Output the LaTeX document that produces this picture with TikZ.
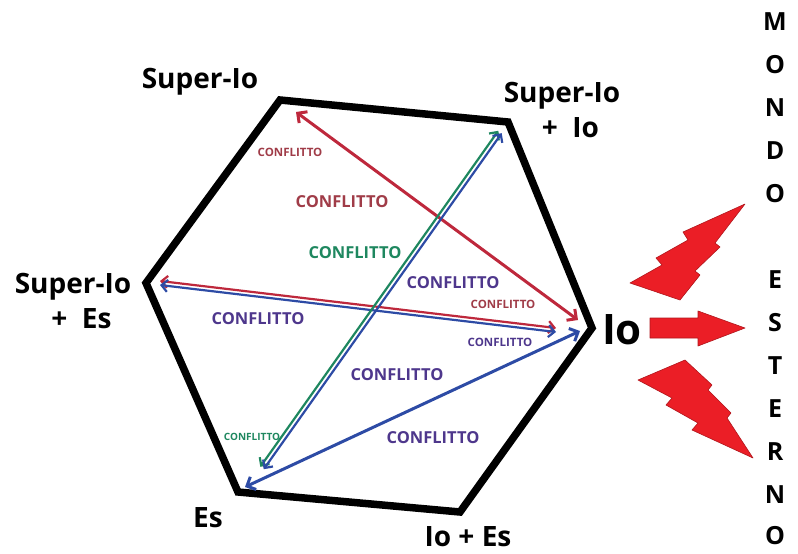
\documentclass[tikz,border=0pt]{standalone}
\usepackage{fontspec}
\setmainfont{Open Sans}
\usetikzlibrary{arrows.meta}

\definecolor{confred}{RGB}{190,40,60}
\definecolor{labred}{RGB}{160,60,72}
\definecolor{confgreen}{RGB}{30,135,95}
\definecolor{confblue}{RGB}{45,75,165}
\definecolor{labpurple}{RGB}{78,55,140}
\definecolor{boltred}{RGB}{235,30,38}

\begin{document}
\begin{tikzpicture}[x=1pt, y=-1pt,
    vlabel/.style={font=\fontsize{28}{35}\selectfont\bfseries, align=center, inner sep=0pt},
    conf/.style={font=\fontsize{16.5}{18}\selectfont\bfseries, inner sep=0pt},
    confs/.style={font=\fontsize{11.5}{13}\selectfont\bfseries, inner sep=0pt},
    arr/.style={{Straight Barb[length=7pt,width=14pt]}-{Straight Barb[length=7pt,width=14pt]}, line width=3pt},
    twin/.style={{Straight Barb[length=6pt,width=12pt]}-{Straight Barb[length=6pt,width=12pt]}, line width=2.2pt},
    bolt/.style={fill=boltred, draw=boltred!75!black, line width=0.6pt, line join=round},
    letter/.style={font=\fontsize{25}{27}\selectfont\bfseries, inner sep=0pt}
]
\useasboundingbox (0,0) rectangle (798,554);

% esagono
\coordinate (TL) at (280,100);
\coordinate (TR) at (508,122);
\coordinate (R)  at (592,328);
\coordinate (BR) at (460,512);
\coordinate (BL) at (238,492);
\coordinate (L)  at (146,283);
\draw[line width=7.5pt, line join=miter] (TL) -- (TR) -- (R) -- (BR) -- (BL) -- (L) -- cycle;

% estremi delle frecce
\coordinate (superA) at (296,112);
\coordinate (ioA)    at (578,320);
\coordinate (seR1)   at (160,281);
\coordinate (ioR1)   at (556,328);
\coordinate (seR2)   at (160,285);
\coordinate (ioR2)   at (556,332);
\coordinate (siG1)   at (498.3,130.8);
\coordinate (esG1)   at (260.3,466.8);
\coordinate (siG2)   at (501.7,133.2);
\coordinate (esG2)   at (263.7,469.2);
\coordinate (ioB)    at (580,331);
\coordinate (esB)    at (245,487);

\draw[arr, confred] (superA) -- (ioA);
\draw[twin, confred] (seR1) -- (ioR1);
\draw[twin, confblue] (seR2) -- (ioR2);
\draw[twin, confgreen] (siG1) -- (esG1);
\draw[twin, confblue] (siG2) -- (esG2);
\draw[arr, confblue] (ioB) -- (esB);

% etichette conflitto
\node[confs, labred] (c1) at (290,152) {CONFLITTO};
\node[conf, labred] (c2) at (342,202) {CONFLITTO};
\node[conf, confgreen] (c3) at (355,253) {CONFLITTO};
\node[conf, labpurple] (c4) at (453,283) {CONFLITTO};
\node[confs, labred] (c5) at (503,304) {CONFLITTO};
\node[conf, labpurple] (c6) at (258,319) {CONFLITTO};
\node[confs, labpurple] (c7) at (500,342) {CONFLITTO};
\node[conf, labpurple] (c8) at (397,375) {CONFLITTO};
\node[confs, confgreen, font=\fontsize{10}{12}\selectfont\bfseries] (c9) at (252,437) {CONFLITTO};
\node[conf, labpurple] (c10) at (433,438) {CONFLITTO};

% vertici
\node[vlabel] (superio) at (200,82) {Super-Io};
\node[vlabel] (superioio) at (562,110) {Super-Io\\\hspace*{0.6em}+\ \ Io};
\node[vlabel] (superioes) at (73,301) {Super-Io\\\hspace*{0.6em}+\ \ Es};
\node[vlabel, font=\fontsize{42}{44}\selectfont\bfseries] (io) at (622,330) {Io};
\node[vlabel] (es) at (208,518) {Es};
\node[vlabel] (ioes) at (468,537) {Io + Es};

% mondo esterno
\fill[bolt] (745,204) -- (683,232) -- (688,240) -- (656,258) -- (662,265) -- (630,283)
  -- (680,300) -- (700,275) -- (695,271) -- (720,247) -- (715,243) -- cycle;
\fill[bolt] (650,318) -- (698,318) -- (698,311) -- (745,328) -- (698,346) -- (698,338)
  -- (650,338) -- cycle;
\fill[bolt] (685,360) -- (638,380) -- (672,398) -- (666,405) -- (698,423) -- (692,430)
  -- (753,458) -- (727,418) -- (731,413) -- (708,390) -- (712,385) -- cycle;

\node[letter] (m1) at (775,22) {M};
\node[letter] (m2) at (775,65) {O};
\node[letter] (m3) at (775,108) {N};
\node[letter] (m4) at (775,151) {D};
\node[letter] (m5) at (775,194) {O};
\node[letter] (e1) at (775,280) {E};
\node[letter] (e2) at (775,323) {S};
\node[letter] (e3) at (775,366) {T};
\node[letter] (e4) at (775,409) {E};
\node[letter] (e5) at (775,452) {R};
\node[letter] (e6) at (775,495) {N};
\node[letter] (e7) at (775,536) {O};
\end{tikzpicture}
\end{document}
